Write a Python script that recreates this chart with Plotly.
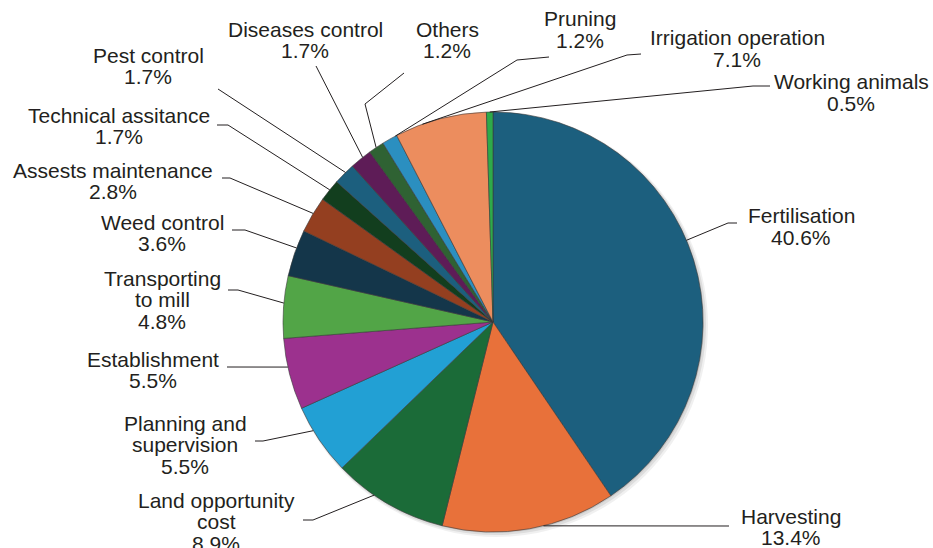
import math
import plotly.graph_objects as go

# ---------------- data ----------------
categories = ["Fertilisation", "Harvesting", "Land opportunity cost", "Planning and supervision",
              "Establishment", "Transporting to mill", "Weed control", "Assests maintenance",
              "Technical assitance", "Pest control", "Diseases control", "Others", "Pruning",
              "Irrigation operation", "Working animals"]
shares = [40.6, 13.4, 8.9, 5.5, 5.5, 4.8, 3.6, 2.8, 1.7, 1.7, 1.7, 1.2, 1.2, 7.1, 0.5]
label_lines = [["Fertilisation"], ["Harvesting"], ["Land opportunity", "cost"],
               ["Planning and", "supervision"], ["Establishment"], ["Transporting", "to mill"],
               ["Weed control"], ["Assests maintenance"], ["Technical assitance"], ["Pest control"],
               ["Diseases control"], ["Others"], ["Pruning"], ["Irrigation operation"],
               ["Working animals"]]

colors = ["#1c5f7e", "#e8713a", "#1b6b38", "#22a0d4", "#9c318e", "#52a547", "#14364a",
          "#943f20", "#123e1e", "#1c5f7e", "#5e1c57", "#2f6233", "#2b8fc0", "#ec8d5e", "#2eaa4a"]

# ---------------- layout constants (pixels) ----------------
W, H = 933, 548
CX, CY, R = 493, 322, 210
FONT = dict(family="Liberation Sans, Arial, sans-serif", size=21, color="#231f20")
LINE_H = 21.5

# label placement: (center x, first line center y)
label_pos = [(801, 216), (791, 516), (216, 500), (185, 423), (153, 359), (162, 278),
             (162, 222), (113, 170), (119, 115), (148, 55), (305, 29), (447, 29),
             (580, 19), (737, 38), (851, 82)]
# leader: fraction along slice where it touches the pie, then polyline points
leader = [
    (0.46, [(728, 223), (737, 223)]),
    (0.42, [(729, 526)]),
    (0.64, [(313, 520), (303, 520)]),
    (0.65, [(263, 441), (255, 441)]),
    (0.60, [(227, 367)]),
    (0.56, [(238, 290), (228, 290)]),
    (0.61, [(245, 230), (232, 230)]),
    (0.54, [(230, 178), (222, 178)]),
    (0.53, [(228, 125), (217, 125)]),
    (0.58, [(218, 89)]),
    (0.60, [(316, 66)]),
    (0.49, [(365, 104), (404, 73)]),
    (0.90, [(517, 60), (549, 57)]),
    (0.30, [(627, 55), (641, 54)]),
    (0.50, [(753, 86), (770, 86)]),
]


def px(x):
    return x / W


def py(y):
    return 1 - y / H


fig = go.Figure()
fig.add_trace(go.Pie(
    labels=categories, values=shares, sort=False, direction="clockwise", rotation=0,
    textinfo="none", hoverinfo="label+percent",
    marker=dict(colors=colors, line=dict(color="#3a3a3a", width=0.6)),
    domain=dict(x=[px(CX - R), px(CX + R)], y=[py(CY + R), py(CY - R)]),
    showlegend=False,
))

shapes = []
# soft shadow
for off, rr, a in [(3, R + 2, 0.06), (2, R + 1, 0.08), (1, R, 0.10)]:
    shapes.append(dict(type="circle", xref="paper", yref="paper", layer="below",
                       x0=px(CX - rr + off), x1=px(CX + rr + off),
                       y0=py(CY + rr + off), y1=py(CY - rr + off),
                       fillcolor=f"rgba(0,0,0,{a})", line=dict(width=0)))

total = sum(shares)
cum = 0.0
annotations = []
for i, v in enumerate(shares):
    a0 = cum / total * 2 * math.pi
    a1 = (cum + v) / total * 2 * math.pi
    cum += v
    frac, pts = leader[i]
    ang = a0 + frac * (a1 - a0)
    sx = CX + R * math.sin(ang)
    sy = CY - R * math.cos(ang)
    path = f"M {px(sx)},{py(sy)} " + " ".join(f"L {px(x)},{py(y)}" for x, y in pts)
    shapes.append(dict(type="path", xref="paper", yref="paper", path=path,
                       line=dict(color="#231f20", width=1)))
    lx, ly = label_pos[i]
    lines = label_lines[i] + [f"{v}%"]
    for k, t in enumerate(lines):
        annotations.append(dict(text=t, x=px(lx), y=py(ly + k * LINE_H), xref="paper",
                                yref="paper", xanchor="center", yanchor="middle",
                                showarrow=False, font=FONT))

fig.update_layout(width=W, height=H, margin=dict(l=0, r=0, t=0, b=0),
                  paper_bgcolor="white", plot_bgcolor="white",
                  shapes=shapes, annotations=annotations)
fig.write_html("out.html")
